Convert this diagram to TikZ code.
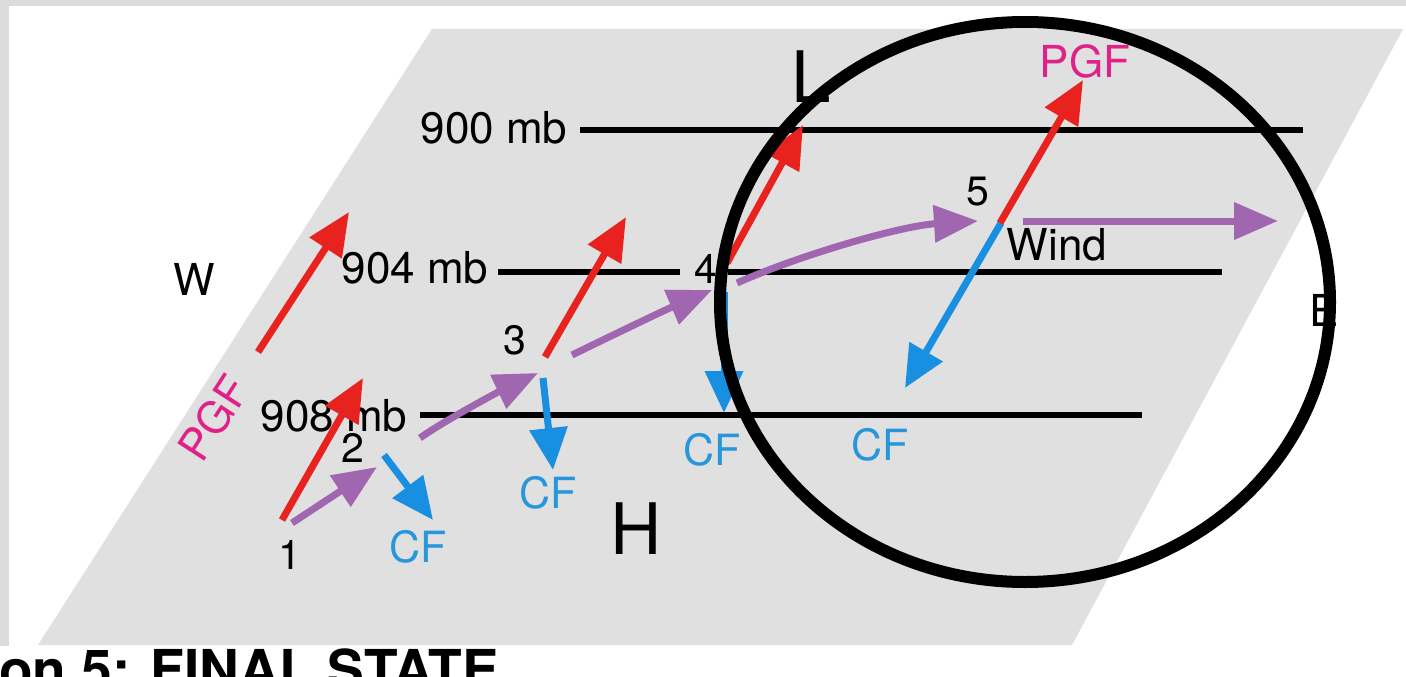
\documentclass[tikz,border=0pt]{standalone}
\usepackage{fontspec}
\setmainfont{TeX Gyre Heros}
\usetikzlibrary{arrows.meta}
\definecolor{framegray}{RGB}{220,220,220}
\definecolor{planegray}{RGB}{224,224,224}
\definecolor{pgfred}{RGB}{232,35,31}
\definecolor{cfblue}{RGB}{24,143,224}
\definecolor{cftext}{RGB}{40,150,220}
\definecolor{windpurple}{RGB}{160,102,176}
\definecolor{pgfpink}{RGB}{224,33,138}
\newcommand{\myfs}[1]{\fontsize{#1}{#1}\selectfont}
\begin{document}
\begin{tikzpicture}[x=1pt,y=-1pt,
  lbl/.style={inner sep=0pt, font=\myfs{44}},
  num/.style={inner sep=0pt, font=\myfs{41}},
  big/.style={inner sep=0pt, font=\myfs{71}},
  cflbl/.style={inner sep=0pt, text=cftext, font=\myfs{43}},
  pgflbl/.style={inner sep=0pt, text=pgfpink, font=\myfs{44}},
  isobar/.style={line width=5.5pt},
  pgfarrow/.style={draw=pgfred, line width=7pt, -{Triangle[length=43pt,width=37pt]}},
  cfarrow/.style={draw=cfblue, line width=7pt, -{Triangle[length=42pt,width=37pt]}},
  windarrow/.style={draw=windpurple, line width=7pt, -{Triangle[length=44pt,width=36pt]}},
  ring/.style={line width=12pt}]
\useasboundingbox (0,0) rectangle (1406,677);
\clip (0,0) rectangle (1406,677);
% frame and background
\fill[framegray] (0,0) rectangle (1406,677);
\fill[white] (9,6) rectangle (1406,646);
\fill[white] (0,646) rectangle (1406,677);
% tilted plane
\fill[planegray] (432,29) -- (1403,29) -- (1072,645) -- (38,645) -- cycle;
% isobars
\draw[isobar] (580,130) -- (1303,130);
\draw[isobar] (498,272) -- (680,272);
\draw[isobar] (728,272) -- (1222,272);
\draw[isobar] (420,415) -- (1142,415);
% labels
\node[lbl] (l900) at (494,128) {900 mb};
\node[lbl] (l904) at (415,268) {904 mb};
\node[lbl] (l908) at (334,416) {908 mb};
\node[lbl] (west) at (194,279) {W};
\node[lbl] (east) at (1324,310) {E};
\node[big] (low) at (811,77) {L};
\node[big] (high) at (636,529) {H};
\node[num] (n1) at (290,555) {1};
\node[num] (n2) at (353,448) {2};
\node[num] (n3) at (515,340) {3};
\node[num] (n4) at (706,269) {4};
\node[num] (n5) at (978,192) {5};
\node[lbl] (wind) at (1057,245) {Wind};
\node[pgflbl] (pgftop) at (1085,61) {PGF};
\node[pgflbl, rotate=57] (pgfleft) at (214,418) {PGF};
\node[cflbl] (cf2) at (418,547) {CF};
\node[cflbl] (cf3) at (548,493) {CF};
\node[cflbl] (cf4) at (712,450) {CF};
\node[cflbl] (cf5) at (880,445) {CF};
% arrow end points
\coordinate (ra1) at (258,352); \coordinate (ra2) at (349,212);
\coordinate (rb1) at (282,520); \coordinate (rb2) at (363,378);
\coordinate (rc1) at (545,357); \coordinate (rc2) at (626,217);
\coordinate (rd1) at (727,263); \coordinate (rd2) at (803,125);
\coordinate (re1) at (1000,223); \coordinate (re2) at (1083,80);
\coordinate (ba1) at (384,455); \coordinate (ba2) at (433,520);
\coordinate (bb1) at (543,378); \coordinate (bb2) at (553,470);
\coordinate (bc1) at (724,292); \coordinate (bc2) at (724,413);
\coordinate (bd1) at (1001,223); \coordinate (bd2) at (905,388);
\coordinate (wa1) at (292,523); \coordinate (wa2) at (377,467);
\coordinate (wb1) at (420,438); \coordinate (wb2) at (538,373);
\coordinate (wc1) at (572,355); \coordinate (wc2) at (712,290);
\coordinate (wd1) at (737,283); \coordinate (wd2) at (978,221);
\coordinate (we1) at (1023,221); \coordinate (we2) at (1278,221);
% wind arrows
\draw[windarrow] (wa1) -- (wa2);
\draw[windarrow] (wb1) .. controls (442,422) and (500,391) .. (wb2);
\draw[windarrow] (wc1) .. controls (615,334) and (665,310) .. (wc2);
\draw[windarrow] (wd1) .. controls (800,255) and (900,226) .. (wd2);
\draw[windarrow] (we1) -- (we2);
% coriolis arrows
\draw[cfarrow] (ba1) -- (ba2);
\draw[cfarrow] (bb1) -- (bb2);
\draw[cfarrow] (bc1) -- (bc2);
\draw[cfarrow] (bd1) -- (bd2);
% pressure gradient arrows
\draw[pgfarrow] (ra1) -- (ra2);
\draw[pgfarrow] (rb1) -- (rb2);
\draw[pgfarrow] (rc1) -- (rc2);
\draw[pgfarrow] (rd1) -- (rd2);
\draw[pgfarrow] (re1) -- (re2);
% highlight ring
\draw[ring] (1025,302) ellipse [x radius=305pt, y radius=280pt];
% title (cut off)
\node[anchor=base west, inner sep=0pt, font=\myfs{55}\bfseries] (title) at (-1,689) {on 5: FINAL STATE};
\end{tikzpicture}
\end{document}
